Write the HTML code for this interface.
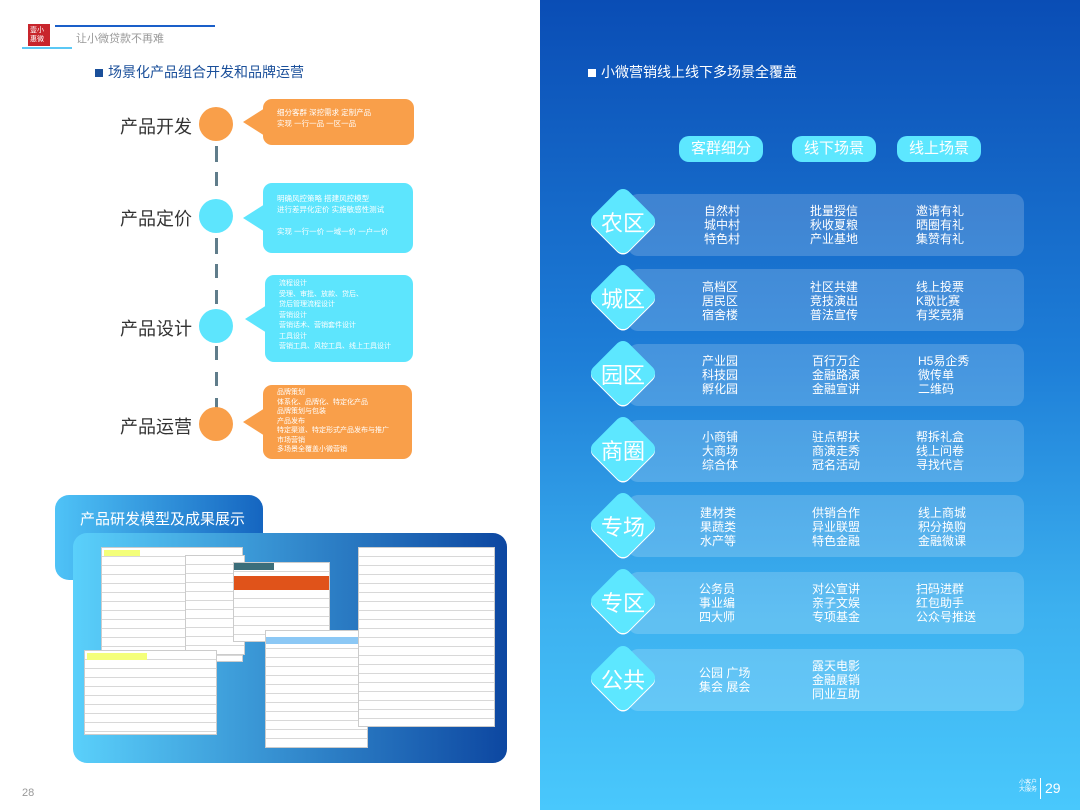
<!DOCTYPE html>
<html><head><meta charset="utf-8"><style>
*{margin:0;padding:0;box-sizing:border-box}
body{width:1080px;height:810px;position:relative;overflow:hidden;background:#fff;font-family:"Liberation Sans","Noto Sans CJK SC",sans-serif}
.a{position:absolute}
.lbl{position:absolute;width:100px;text-align:right;font-size:18px;color:#333;left:92px}
.c{position:absolute;left:199px;width:34px;height:34px;border-radius:50%}
.bub{position:absolute;border-radius:9px;color:#fff;font-size:7.5px;line-height:11px;padding:6px 14px;overflow:hidden}
.tail{position:absolute;width:0;height:0;border-top:14px solid transparent;border-bottom:14px solid transparent}
.or{background:#f99f4a;border-color:#f99f4a}
.cy{background:#5de5fd;border-color:#5de5fd}
.dash{position:absolute;left:215px;width:3px;background:#607d8b}
.pill{position:absolute;top:136px;height:26px;width:84px;border-radius:10px;background:#5de7ff;color:#fff;font-size:15px;text-align:center;line-height:26px}
.band{position:absolute;left:628px;width:396px;height:62px;border-radius:10px;background:rgba(255,255,255,.18)}
.dia{position:absolute;left:598px;width:50px;height:50px;background:#5de7ff;border-radius:8px;transform:rotate(45deg);box-shadow:1px 1px 0 #fff}
.dt{position:absolute;left:588px;width:70px;text-align:center;color:#fff;font-size:22px}
.col{position:absolute;color:#fff;font-size:12px;line-height:14px}
.sh{position:absolute;background:#fff repeating-linear-gradient(180deg,#fff 0,#fff 8px,#d8d8d8 8px,#d8d8d8 9px);border:1px solid #ccc}
</style></head><body>
<!-- header -->
<div class="a" style="left:28px;top:24px;width:22px;height:22px;background:#c8252c;color:#fff;font-size:7px;line-height:9px;padding:2px">壹小<br>惠微</div>
<div class="a" style="left:55px;top:25px;width:160px;height:2px;background:#1a5fc9"></div>
<div class="a" style="left:22px;top:47px;width:50px;height:2px;background:#5bc8f5"></div>
<div class="a" style="left:76px;top:30px;font-size:11px;color:#999">让小微贷款不再难</div>
<div class="a" style="left:95px;top:62px;font-size:14px;color:#1a4f9a"><span style="display:inline-block;width:8px;height:8px;background:#1a4f9a;margin-right:5px"></span>场景化产品组合开发和品牌运营</div>
<!-- timeline -->
<div class="dash" style="top:146px;height:16px"></div><div class="dash" style="top:172px;height:14px"></div>
<div class="dash" style="top:238px;height:16px"></div><div class="dash" style="top:264px;height:14px"></div><div class="dash" style="top:290px;height:14px"></div>
<div class="dash" style="top:346px;height:14px"></div><div class="dash" style="top:372px;height:14px"></div><div class="dash" style="top:398px;height:10px"></div>
<div class="lbl" style="top:113px">产品开发</div><div class="c or" style="top:107px"></div>
<div class="lbl" style="top:205px">产品定价</div><div class="c cy" style="top:199px"></div>
<div class="lbl" style="top:315px">产品设计</div><div class="c cy" style="top:309px"></div>
<div class="lbl" style="top:413px">产品运营</div><div class="c or" style="top:407px"></div>
<div class="tail" style="left:243px;top:108px;border-right:22px solid #f99f4a"></div>
<div class="tail" style="left:243px;top:204px;border-right:22px solid #5de5fd"></div>
<div class="tail" style="left:245px;top:305px;border-right:22px solid #5de5fd"></div>
<div class="tail" style="left:243px;top:408px;border-right:22px solid #f99f4a"></div>
<div class="bub or" style="left:263px;top:99px;width:151px;height:46px;padding-top:8px">细分客群 深挖需求 定制产品<br>实现 一行一品 一区一品</div>
<div class="bub cy" style="left:263px;top:183px;width:150px;height:70px;padding-top:10px">明确风控策略 搭建风控模型<br>进行差异化定价 实施敏感性测试<br><br>实现 一行一价 一域一价 一户一价</div>
<div class="bub cy" style="left:265px;top:275px;width:148px;height:87px;padding-top:4px;line-height:10.5px;font-size:7px">流程设计<br>受理、审批、放款、贷后、<br>贷后管理流程设计<br>营销设计<br>营销话术、营销套件设计<br>工具设计<br>营销工具、风控工具、线上工具设计</div>
<div class="bub or" style="left:263px;top:385px;width:149px;height:74px;padding-top:3px;line-height:9.5px;font-size:7px">品牌策划<br>体系化、品牌化、特定化产品<br>品牌策划与包装<br>产品发布<br>特定渠道、特定形式产品发布与推广<br>市场营销<br>多场景全覆盖小微营销</div>
<!-- bottom left -->
<div class="a" style="left:55px;top:495px;width:208px;height:85px;border-radius:14px;background:linear-gradient(90deg,#4fc3f7,#1565c0)"></div>
<div class="a" style="left:80px;top:508px;font-size:15px;color:#fff">产品研发模型及成果展示</div>
<div class="a" style="left:73px;top:533px;width:434px;height:230px;border-radius:14px;background:linear-gradient(90deg,#5ad0fb,#0d47a1)"></div>
<div class="sh" style="left:101px;top:547px;width:142px;height:115px"><div style="background:#f4ff7a;width:36px;height:6px;margin:2px"></div></div>
<div class="sh" style="left:185px;top:555px;width:60px;height:100px"></div>
<div class="sh" style="left:233px;top:562px;width:97px;height:80px"><div style="background:#3c6e7a;height:7px;width:40px"></div><div style="background:#e0531a;height:14px;margin-top:6px"></div></div>
<div class="sh" style="left:84px;top:650px;width:133px;height:85px"><div style="background:#f4ff7a;width:60px;height:7px;margin:2px"></div></div>
<div class="sh" style="left:265px;top:630px;width:103px;height:118px"><div style="background:#8cc8f5;height:7px;margin-top:6px"></div></div>
<div class="sh" style="left:358px;top:547px;width:137px;height:180px"></div>
<div class="a" style="left:22px;top:787px;font-size:11px;color:#999">28</div>
<!-- right -->
<div class="a" style="left:540px;top:0;width:540px;height:810px;background:linear-gradient(180deg,#0a4db5 0%,#1e7fd8 45%,#3cb0ef 75%,#49c8fc 100%)"></div>
<div class="a" style="left:588px;top:62px;font-size:14px;color:#fff"><span style="display:inline-block;width:8px;height:8px;background:#fff;margin-right:5px"></span>小微营销线上线下多场景全覆盖</div>
<div class="pill" style="left:679px">客群细分</div><div class="pill" style="left:792px">线下场景</div><div class="pill" style="left:897px">线上场景</div>

<div class="band" style="top:194px"></div><div class="dia" style="top:196px"></div><div class="dt" style="top:206px">农区</div>
<div class="col" style="left:704px;top:204px">自然村<br>城中村<br>特色村</div><div class="col" style="left:810px;top:204px">批量授信<br>秋收夏粮<br>产业基地</div><div class="col" style="left:916px;top:204px">邀请有礼<br>晒圈有礼<br>集赞有礼</div>

<div class="band" style="top:269px"></div><div class="dia" style="top:272px"></div><div class="dt" style="top:282px">城区</div>
<div class="col" style="left:702px;top:280px">高档区<br>居民区<br>宿舍楼</div><div class="col" style="left:810px;top:280px">社区共建<br>竞技演出<br>普法宣传</div><div class="col" style="left:916px;top:280px">线上投票<br>K歌比赛<br>有奖竞猜</div>

<div class="band" style="top:344px"></div><div class="dia" style="top:348px"></div><div class="dt" style="top:358px">园区</div>
<div class="col" style="left:702px;top:354px">产业园<br>科技园<br>孵化园</div><div class="col" style="left:812px;top:354px">百行万企<br>金融路演<br>金融宣讲</div><div class="col" style="left:918px;top:354px">H5易企秀<br>微传单<br>二维码</div>

<div class="band" style="top:420px"></div><div class="dia" style="top:424px"></div><div class="dt" style="top:434px">商圈</div>
<div class="col" style="left:702px;top:430px">小商铺<br>大商场<br>综合体</div><div class="col" style="left:812px;top:430px">驻点帮扶<br>商演走秀<br>冠名活动</div><div class="col" style="left:916px;top:430px">帮拆礼盒<br>线上问卷<br>寻找代言</div>

<div class="band" style="top:495px"></div><div class="dia" style="top:500px"></div><div class="dt" style="top:510px">专场</div>
<div class="col" style="left:700px;top:506px">建材类<br>果蔬类<br>水产等</div><div class="col" style="left:812px;top:506px">供销合作<br>异业联盟<br>特色金融</div><div class="col" style="left:918px;top:506px">线上商城<br>积分换购<br>金融微课</div>

<div class="band" style="top:572px"></div><div class="dia" style="top:576px"></div><div class="dt" style="top:586px">专区</div>
<div class="col" style="left:699px;top:582px">公务员<br>事业编<br>四大师</div><div class="col" style="left:812px;top:582px">对公宣讲<br>亲子文娱<br>专项基金</div><div class="col" style="left:916px;top:582px">扫码进群<br>红包助手<br>公众号推送</div>

<div class="band" style="top:649px"></div><div class="dia" style="top:653px"></div><div class="dt" style="top:663px">公共</div>
<div class="col" style="left:699px;top:666px">公园 广场<br>集会 展会</div><div class="col" style="left:812px;top:659px">露天电影<br>金融展销<br>同业互助</div>

<div class="a" style="left:1019px;top:780px;font-size:6px;line-height:7px;color:#fff">小客户<br>大服务</div>
<div class="a" style="left:1040px;top:778px;width:1px;height:21px;background:#fff"></div>
<div class="a" style="left:1045px;top:780px;font-size:14px;color:#fff">29</div>
</body></html>
